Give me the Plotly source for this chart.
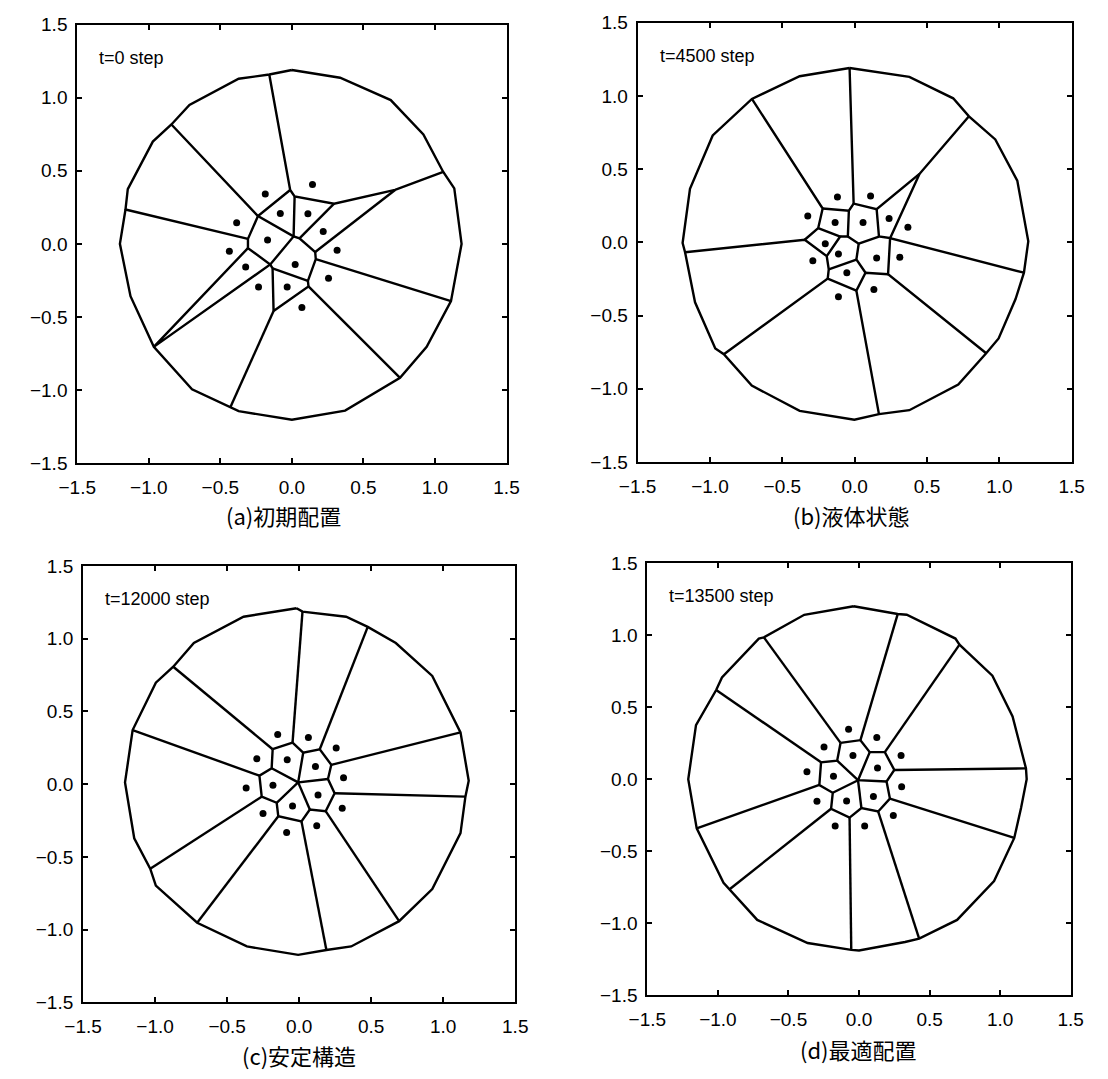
import plotly.graph_objects as go

# ---------------- data ----------------
# panel (a) t=0 step
a_points = [(0.144, 0.407), (-0.186, 0.342), (-0.081, 0.208), (0.112, 0.206), (-0.386, 0.145),
            (0.219, 0.085), (-0.170, 0.027), (-0.437, -0.051), (0.316, -0.043), (0.023, -0.141),
            (-0.323, -0.159), (0.256, -0.235), (-0.233, -0.295), (-0.033, -0.295), (0.070, -0.436)]
a_ring = [(0.0, 1.19), (0.337, 1.137), (0.691, 0.984), (0.919, 0.749), (1.058, 0.492), (1.135, 0.380),
          (1.186, 0.0), (1.112, -0.392), (0.942, -0.705), (0.756, -0.917), (0.372, -1.141), (0.0, -1.204),
          (-0.372, -1.145), (-0.430, -1.119), (-0.698, -0.996), (-0.965, -0.705), (-1.128, -0.358),
          (-1.202, 0.0), (-1.163, 0.235), (-1.147, 0.374), (-0.972, 0.700), (-0.842, 0.817),
          (-0.716, 0.951), (-0.372, 1.130), (-0.158, 1.159)]
a_edges = [
    [(-0.158, 1.159), (-0.012, 0.369), (0.019, 0.324), (0.295, 0.275), (0.721, 0.369), (1.058, 0.492)],
    [(-0.012, 0.369), (-0.237, 0.190), (-0.307, 0.034), (-0.307, -0.029), (-0.151, -0.141),
     (-0.135, -0.168), (-0.128, -0.459), (0.116, -0.291), (0.112, -0.253), (0.167, -0.105),
     (0.163, -0.056), (0.053, 0.038), (0.012, 0.051), (0.019, 0.324)],
    [(-0.842, 0.817), (-0.237, 0.190), (0.012, 0.051), (-0.151, -0.141), (-0.965, -0.705), (-0.307, -0.029)],
    [(-1.163, 0.235), (-0.307, 0.034)],
    [(-0.430, -1.119), (-0.128, -0.459)],
    [(0.756, -0.917), (0.116, -0.291)],
    [(1.112, -0.392), (0.167, -0.105)],
    [(0.721, 0.369), (0.163, -0.056)],
    [(0.295, 0.275), (0.053, 0.038)],
    [(-0.135, -0.168), (0.112, -0.253)],
]

# panel (b) t=4500 step
b_points = [(-0.119, 0.310), (0.110, 0.317), (-0.324, 0.180), (0.238, 0.164), (0.368, 0.103),
            (-0.135, 0.135), (0.058, 0.135), (-0.203, -0.009), (-0.112, -0.079), (0.152, -0.106),
            (0.312, -0.101), (-0.289, -0.126), (-0.054, -0.207), (0.133, -0.321), (-0.112, -0.371)]
b_ring = [(-0.035, 1.191), (0.378, 1.130), (0.681, 0.984), (0.790, 0.861), (0.972, 0.703), (1.124, 0.422),
          (1.200, 0.007), (1.170, -0.207), (1.112, -0.387), (0.995, -0.656), (0.909, -0.757),
          (0.716, -0.971), (0.378, -1.146), (0.168, -1.173), (-0.002, -1.211), (-0.380, -1.151),
          (-0.711, -0.978), (-0.904, -0.764), (-0.963, -0.724), (-1.103, -0.409), (-1.172, -0.067),
          (-1.189, -0.004), (-1.138, 0.366), (-0.981, 0.730), (-0.710, 0.980), (-0.380, 1.135)]
b_edges = [
    [(-0.035, 1.191), (-0.007, 0.265), (0.152, 0.227), (0.448, 0.467), (0.790, 0.861)],
    [(0.448, 0.467), (0.245, 0.029), (1.170, -0.207)],
    [(0.152, 0.227), (0.168, 0.040), (0.245, 0.029), (0.231, -0.218), (0.909, -0.757)],
    [(0.231, -0.218), (0.075, -0.207), (0.012, -0.330), (0.168, -1.173)],
    [(0.012, -0.330), (-0.186, -0.247), (-0.904, -0.764)],
    [(-0.186, -0.247), (-0.179, -0.184), (-0.193, -0.094), (-0.345, 0.018), (-1.172, -0.067)],
    [(-0.345, 0.018), (-0.252, 0.097), (-0.221, 0.231), (-0.710, 0.980)],
    [(-0.221, 0.231), (-0.040, 0.216), (-0.007, 0.265)],
    [(-0.252, 0.097), (-0.100, 0.040), (-0.193, -0.094)],
    [(-0.100, 0.040), (-0.047, 0.040), (-0.040, 0.216)],
    [(-0.047, 0.040), (0.028, -0.009), (0.168, 0.040)],
    [(0.028, -0.009), (0.012, -0.117), (0.075, -0.207)],
    [(0.012, -0.117), (-0.179, -0.184)],
]

# panel (c) t=12000 step
c_points = [(-0.149, 0.342), (0.064, 0.321), (0.257, 0.249), (-0.294, 0.174), (-0.083, 0.167),
            (0.113, 0.121), (0.308, 0.044), (-0.368, -0.026), (-0.182, -0.007), (0.131, -0.074),
            (0.299, -0.165), (-0.046, -0.151), (-0.251, -0.202), (0.122, -0.286), (-0.087, -0.333)]
c_ring = [(-0.018, 1.209), (0.023, 1.186), (0.326, 1.151), (0.476, 1.081), (0.671, 0.970), (0.924, 0.744),
          (1.120, 0.356), (1.177, 0.023), (1.154, -0.086), (1.120, -0.337), (0.924, -0.721),
          (0.694, -0.942), (0.361, -1.116), (0.189, -1.140), (-0.007, -1.174), (-0.363, -1.116),
          (-0.708, -0.953), (-0.995, -0.698), (-1.034, -0.581), (-1.145, -0.372), (-1.209, 0.012),
          (-1.156, 0.372), (-0.995, 0.698), (-0.874, 0.807), (-0.731, 0.970), (-0.386, 1.151)]
c_edges = [
    [(0.023, 1.186), (-0.046, 0.286)],
    [(0.476, 1.081), (0.143, 0.240)],
    [(1.120, 0.356), (0.223, 0.133)],
    [(1.154, -0.086), (0.246, -0.063)],
    [(0.694, -0.942), (0.184, -0.186)],
    [(0.189, -1.140), (0.016, -0.256)],
    [(-0.708, -0.953), (-0.145, -0.221)],
    [(-1.034, -0.581), (-0.260, -0.086)],
    [(-1.156, 0.372), (-0.276, 0.058)],
    [(-0.874, 0.807), (-0.184, 0.240)],
    [(-0.184, 0.240), (-0.046, 0.286), (0.028, 0.216), (0.143, 0.240), (0.223, 0.133), (0.200, 0.035),
     (0.246, -0.063), (0.184, -0.186), (0.074, -0.174), (0.016, -0.256), (-0.145, -0.221),
     (-0.156, -0.128), (-0.260, -0.086), (-0.276, 0.058), (-0.191, 0.109), (-0.184, 0.240)],
    [(0.028, 0.216), (-0.007, 0.012), (0.200, 0.035)],
    [(-0.191, 0.109), (-0.007, 0.012), (-0.156, -0.128)],
    [(-0.007, 0.012), (0.074, -0.174)],
]

# panel (d) t=13500 step
d_points = [(-0.074, 0.346), (0.126, 0.289), (-0.248, 0.224), (0.298, 0.165), (-0.043, 0.165),
            (0.131, 0.078), (-0.369, 0.052), (-0.181, 0.021), (0.302, -0.052), (0.102, -0.120),
            (-0.088, -0.151), (-0.298, -0.153), (0.243, -0.252), (-0.169, -0.325), (0.040, -0.325)]
d_ring = [(-0.038, 1.200), (0.274, 1.146), (0.338, 1.141), (0.683, 0.976), (0.712, 0.934), (0.945, 0.718),
          (1.088, 0.435), (1.183, 0.075), (1.188, 0.0), (1.148, -0.200), (1.100, -0.407), (0.957, -0.706),
          (0.695, -0.976), (0.426, -1.106), (0.326, -1.129), (0.0, -1.188), (-0.055, -1.184),
          (-0.364, -1.136), (-0.721, -0.976), (-0.919, -0.765), (-0.960, -0.718), (-1.150, -0.341),
          (-1.210, 0.0), (-1.155, 0.376), (-1.012, 0.619), (-0.971, 0.706), (-0.710, 0.976),
          (-0.674, 0.984), (-0.388, 1.141)]
d_edges = [
    [(0.274, 1.146), (0.010, 0.271)],
    [(0.712, 0.934), (0.183, 0.188)],
    [(1.183, 0.075), (0.250, 0.064)],
    [(1.100, -0.407), (0.219, -0.134)],
    [(0.426, -1.106), (0.136, -0.224)],
    [(-0.055, -1.184), (-0.067, -0.266)],
    [(-0.919, -0.765), (-0.198, -0.205)],
    [(-1.150, -0.341), (-0.281, -0.040)],
    [(-1.012, 0.619), (-0.269, 0.118)],
    [(-0.674, 0.984), (-0.131, 0.252)],
    [(-0.131, 0.252), (0.010, 0.271), (0.076, 0.188), (0.183, 0.188), (0.250, 0.064), (0.195, -0.016),
     (0.219, -0.134), (0.136, -0.224), (0.017, -0.200), (-0.067, -0.266), (-0.198, -0.205),
     (-0.186, -0.094), (-0.281, -0.040), (-0.269, 0.118), (-0.155, 0.129), (-0.131, 0.252)],
    [(0.076, 0.188), (-0.007, -0.007), (0.195, -0.016)],
    [(-0.155, 0.129), (-0.007, -0.007), (-0.186, -0.094)],
    [(-0.007, -0.007), (0.017, -0.200)],
]

step_labels = ["t=0 step", "t=4500 step", "t=12000 step", "t=13500 step"]
captions = ["(a)初期配置", "(b)液体状態", "(c)安定構造", "(d)最適配置"]
tick_vals = [-1.5, -1.0, -0.5, 0.0, 0.5, 1.0, 1.5]

panels = [(a_points, a_ring, a_edges), (b_points, b_ring, b_edges),
          (c_points, c_ring, c_edges), (d_points, d_ring, d_edges)]

# ---------------- layout geometry (pixels) ----------------
W, H = 1108, 1079
frames = [(60, 502, 15, 462), (637, 1084, 13, 461), (66, 511, 567, 1012), (647, 1083, 564, 1005)]
caption_pos = [(272, 515), (857, 515), (288, 1066), (864, 1060)]

fig = go.Figure()
LINE = dict(color="black", width=2.4)
TICKFONT = dict(family="Arial, Liberation Sans, sans-serif", size=19, color="black")

for i, (pts, ring, edges) in enumerate(panels):
    xa = "x" if i == 0 else f"x{i+1}"
    ya = "y" if i == 0 else f"y{i+1}"
    rx = [p[0] for p in ring] + [ring[0][0]]
    ry = [p[1] for p in ring] + [ring[0][1]]
    fig.add_trace(go.Scatter(x=rx, y=ry, mode="lines", line=LINE, xaxis=xa, yaxis=ya,
                             showlegend=False, hoverinfo="skip"))
    ex, ey = [], []
    for poly in edges:
        ex += [p[0] for p in poly] + [None]
        ey += [p[1] for p in poly] + [None]
    fig.add_trace(go.Scatter(x=ex, y=ey, mode="lines", line=LINE, xaxis=xa, yaxis=ya,
                             showlegend=False, hoverinfo="skip"))
    fig.add_trace(go.Scatter(x=[p[0] for p in pts], y=[p[1] for p in pts], mode="markers",
                             marker=dict(color="black", size=7), xaxis=xa, yaxis=ya,
                             showlegend=False))

    x0, x1, y0, y1 = frames[i]
    axcommon = dict(range=[-1.5, 1.5], tickvals=tick_vals, tickformat=".1f",
                    showline=True, linecolor="black", linewidth=2, mirror="ticks",
                    ticks="inside", ticklen=5, tickwidth=2, tickcolor="black",
                    showgrid=False, zeroline=False, tickfont=TICKFONT)
    xkey = "xaxis" if i == 0 else f"xaxis{i+1}"
    ykey = "yaxis" if i == 0 else f"yaxis{i+1}"
    fig.update_layout({
        xkey: dict(domain=[x0 / W, x1 / W], anchor=ya, ticklabelstandoff=6, **axcommon),
        ykey: dict(domain=[1 - y1 / H, 1 - y0 / H], anchor=xa, ticklabelstandoff=4, **axcommon),
    })
    fig.add_annotation(x=-1.36, y=1.27, xref=xa, yref=ya, text=step_labels[i], showarrow=False,
                       xanchor="left", yanchor="middle",
                       font=dict(family="Arial, Liberation Sans, sans-serif", size=18, color="black"))
    cx, cy = caption_pos[i]
    fig.add_annotation(x=cx / W, y=1 - cy / H, xref="paper", yref="paper", text=captions[i],
                       showarrow=False, xanchor="center", yanchor="middle",
                       font=dict(family="Noto Sans CJK JP", size=22, color="black"))

fig.update_layout(width=W, height=H, margin=dict(l=0, r=0, t=0, b=0),
                  paper_bgcolor="white", plot_bgcolor="white")
fig.write_html("out.html")
